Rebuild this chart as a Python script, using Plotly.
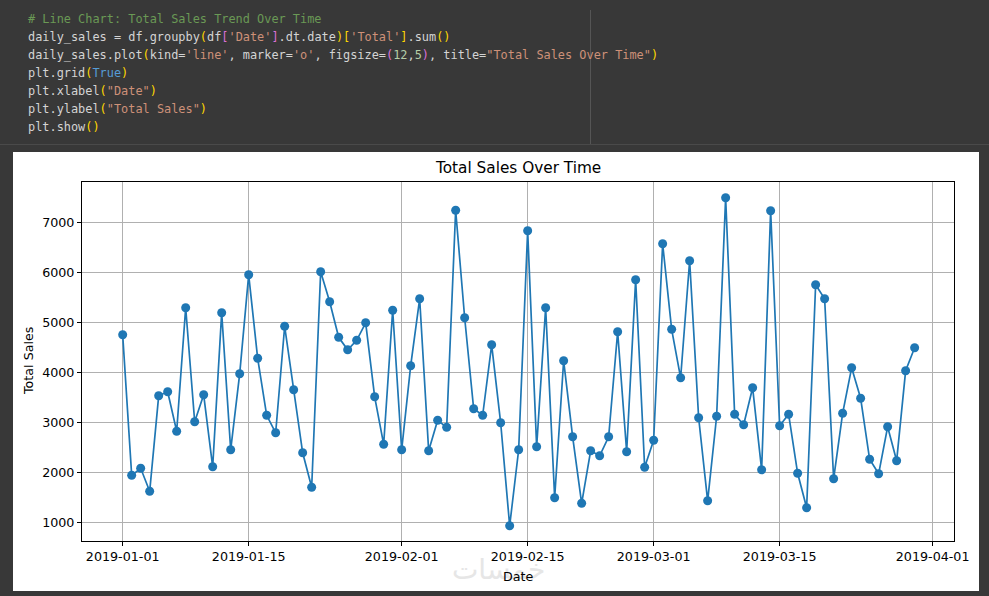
import pandas as pd
import plotly.graph_objects as go

# ---- data ----
start_date = "2019-01-01"
total_sales = [
    4750, 1940, 2080, 1620, 3530, 3610, 2820, 5290, 3010, 3550,
    2110, 5190, 2450, 3970, 5950, 4280, 3140, 2790, 4920, 3650,
    2390, 1700, 6010, 5410, 4700, 4450, 4640, 4990, 3510, 2560,
    5240, 2450, 4130, 5470, 2430, 3040, 2900, 7240, 5090, 3270,
    3140, 4550, 2990, 930, 2450, 6830, 2510, 5290, 1490, 4230,
    2710, 1380, 2430, 2330, 2710, 4810, 2410, 5850, 2100, 2640,
    6570, 4860, 3890, 6230, 3090, 1430, 3120, 7490, 3160, 2950,
    3690, 2050, 7230, 2930, 3160, 1980, 1290, 5750, 5470, 1870,
    3180, 4090, 3480, 2260, 1970, 2910, 2230, 4030, 4490,
]
dates = pd.date_range(start_date, periods=len(total_sales), freq="D")
x_tick_vals = ["2019-01-01", "2019-01-15", "2019-02-01", "2019-02-15",
               "2019-03-01", "2019-03-15", "2019-04-01"]
y_tick_vals = [1000, 2000, 3000, 4000, 5000, 6000, 7000]

title_text = "Total Sales Over Time"
x_label = "Date"
y_label = "Total Sales"

# ---- geometry (pixels) ----
W, H = 989, 596
PL, PR, PT, PB = 82, 954, 182, 541
pw, ph = PR - PL, PB - PT


def px(x):
    return (x - PL) / pw


def py(y):
    return (PB - y) / ph


BLUE = "#1f77b4"
fig = go.Figure()
fig.add_trace(go.Scatter(
    x=dates, y=total_sales, mode="lines+markers",
    line=dict(color=BLUE, width=1.7),
    marker=dict(color=BLUE, size=9, line=dict(width=0)),
    hoverinfo="x+y", showlegend=False,
))

shapes = [
    # white output panel
    dict(type="rect", xref="paper", yref="paper", layer="below",
         x0=px(13), x1=px(979), y0=py(591), y1=py(152),
         fillcolor="white", line=dict(width=0)),
    # code cell bottom divider
    dict(type="line", xref="paper", yref="paper", layer="below",
         x0=px(0), x1=px(989), y0=py(144.5), y1=py(144.5),
         line=dict(color="#4a4a4a", width=1)),
    # ruler line in code cell
    dict(type="line", xref="paper", yref="paper", layer="below",
         x0=px(590.5), x1=px(590.5), y0=py(10), y1=py(144),
         line=dict(color="#555555", width=1)),
]

C_DEF = "#d4d4d4"
C_COM = "#6a9955"
C_STR = "#ce9178"
C_Y = "#ffd700"
C_P = "#da70d6"
C_B = "#569cd6"
C_NUM = "#b5cea8"


def s(t, c):
    return f'<span style="color:{c}">{t}</span>'


code_lines = [
    s("# Line Chart: Total Sales Trend Over Time", C_COM),
    "daily_sales = df.groupby" + s("(", C_Y) + "df" + s("[", C_P) + s("'Date'", C_STR)
    + s("]", C_P) + ".dt.date" + s(")", C_Y) + s("[", C_Y) + s("'Total'", C_STR)
    + s("]", C_Y) + ".sum" + s("()", C_Y),
    "daily_sales.plot" + s("(", C_Y) + "kind=" + s("'line'", C_STR) + ", marker="
    + s("'o'", C_STR) + ", figsize=" + s("(", C_P) + s("12", C_NUM) + "," + s("5", C_NUM)
    + s(")", C_P) + ", title=" + s('"Total Sales Over Time"', C_STR) + s(")", C_Y),
    "plt.grid" + s("(", C_Y) + s("True", C_B) + s(")", C_Y),
    "plt.xlabel" + s("(", C_Y) + s('"Date"', C_STR) + s(")", C_Y),
    "plt.ylabel" + s("(", C_Y) + s('"Total Sales"', C_STR) + s(")", C_Y),
    "plt.show" + s("()", C_Y),
]

annotations = []
for i, line in enumerate(code_lines):
    annotations.append(dict(
        xref="paper", yref="paper", x=px(26), y=py(19 + 18 * i),
        xanchor="left", yanchor="middle", showarrow=False,
        text=line, font=dict(family="DejaVu Sans Mono", size=11.9, color=C_DEF),
    ))

# watermark (faint, behind the x label as in the reference)
annotations.append(dict(
    xref="paper", yref="paper", x=px(498), y=py(569), xanchor="center",
    yanchor="middle", showarrow=False, text="خمسات",
    font=dict(family="DejaVu Sans", size=28, color="#e6e6e6"),
))
# title
annotations.append(dict(
    xref="paper", yref="paper", x=0.5, y=py(168), xanchor="center",
    yanchor="middle", showarrow=False, text=title_text,
    font=dict(family="DejaVu Sans", size=15.3, color="black"),
))
# x label
annotations.append(dict(
    xref="paper", yref="paper", x=px(518), y=py(576), xanchor="center",
    yanchor="middle", showarrow=False, text=x_label,
    font=dict(family="DejaVu Sans", size=12.7, color="black"),
))
# y label
annotations.append(dict(
    xref="paper", yref="paper", x=px(28), y=py(361), xanchor="center",
    yanchor="middle", showarrow=False, text=y_label, textangle=-90,
    font=dict(family="DejaVu Sans", size=12.7, color="black"),
))

axis_common = dict(
    showline=True, linecolor="black", linewidth=1, mirror=True,
    showgrid=True, gridcolor="#b0b0b0", gridwidth=1,
    ticks="outside", ticklen=4, tickcolor="black", tickwidth=1,
    tickfont=dict(family="DejaVu Sans", size=12.7, color="black"),
    zeroline=False,
)

fig.update_layout(
    width=W, height=H,
    margin=dict(l=PL, r=W - PR, t=PT, b=H - PB, pad=0),
    paper_bgcolor="#383838", plot_bgcolor="white",
    shapes=shapes, annotations=annotations,
    xaxis=dict(range=["2018-12-27 11:30", "2019-04-03 09:00"],
               tickvals=x_tick_vals, ticktext=x_tick_vals, **axis_common),
    yaxis=dict(range=[626, 7806], tickvals=y_tick_vals,
               ticktext=[str(v) for v in y_tick_vals], **axis_common),
    showlegend=False,
)

fig.write_html(
    "out.html",
    config={"displayModeBar": False},
    post_script="document.body.style.margin='0';document.body.style.background='#383838';",
)
